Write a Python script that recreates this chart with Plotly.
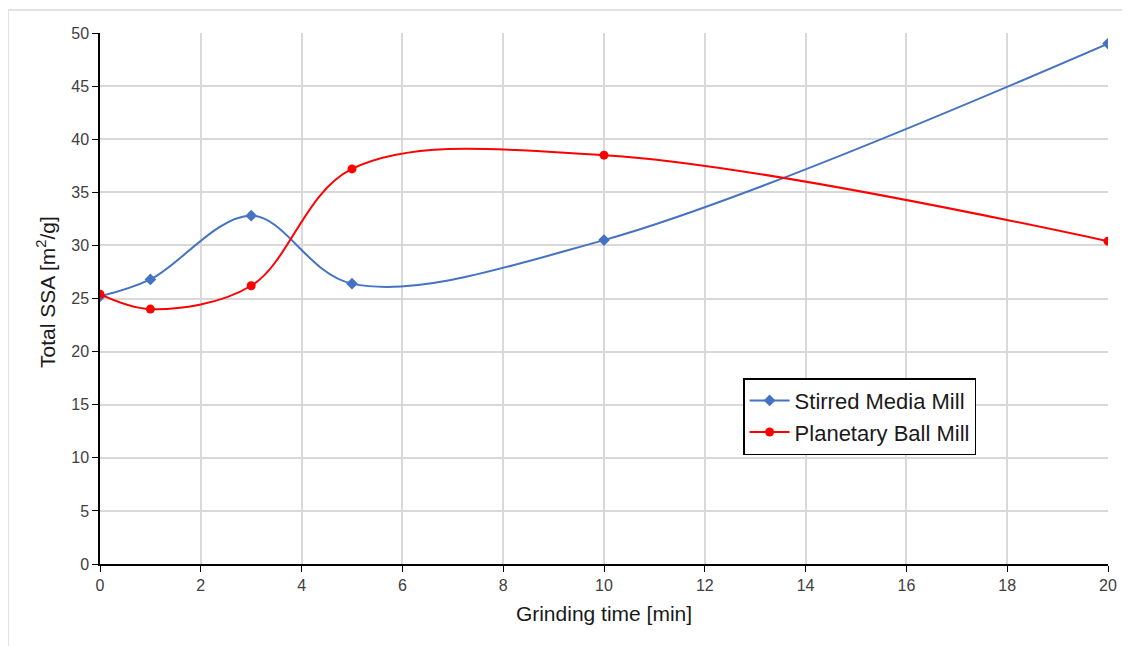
import plotly.graph_objects as go

time_min = [0, 1, 3, 5, 10, 20]
stirred_media = [25.2, 26.8, 32.8, 26.4, 30.5, 49.0]
planetary_ball = [25.4, 24.0, 26.2, 37.2, 38.5, 30.4]

x_ticks = list(range(0, 21, 2))
y_ticks = list(range(0, 51, 5))

fig = go.Figure()
fig.add_trace(go.Scatter(
    x=time_min, y=stirred_media, name="Stirred Media Mill",
    mode="lines+markers",
    line=dict(color="#4472C4", width=2, shape="spline", smoothing=1.0),
    marker=dict(symbol="diamond", size=9, color="#4472C4"),
))
fig.add_trace(go.Scatter(
    x=time_min, y=planetary_ball, name="Planetary Ball Mill",
    mode="lines+markers",
    line=dict(color="#FF0000", width=2, shape="spline", smoothing=1.0),
    marker=dict(symbol="circle", size=9, color="#FF0000"),
))

font_family = "Liberation Sans, Arial, sans-serif"
W, H = 1122, 638
L, R, T, B = 92, 22, 25, 82
pw, ph = W - L - R, H - T - B

fig.update_layout(
    width=W, height=H,
    margin=dict(l=L, r=R, t=T, b=B),
    paper_bgcolor="white", plot_bgcolor="white",
    font=dict(family=font_family, color="#404040", size=16),
    showlegend=True,
    legend=dict(
        x=0.638, y=0.35, xanchor="left", yanchor="top",
        bordercolor="black", borderwidth=1.5, bgcolor="white",
        font=dict(size=22, color="#1a1a1a", family=font_family),
        tracegroupgap=4, itemwidth=40,
    ),
    xaxis=dict(
        range=[0, 20], tickvals=x_ticks, showgrid=True, gridcolor="#D9D9D9", gridwidth=1.5,
        showline=True, linecolor="black", linewidth=1.5, zeroline=False,
        ticks="outside", ticklen=6, tickcolor="black",
        title=dict(text="Grinding time [min]", font=dict(size=21, color="#1a1a1a"), standoff=13),
        tickfont=dict(size=16, color="#404040"),
    ),
    yaxis=dict(
        range=[0, 50], tickvals=y_ticks, showgrid=True, gridcolor="#D9D9D9", gridwidth=1.5,
        showline=True, linecolor="black", linewidth=1.5, zeroline=False,
        ticks="outside", ticklen=6, tickcolor="black",
        tickfont=dict(size=16, color="#404040"),
    ),
)
# y axis title placed as a rotated annotation to match the reference position
fig.add_annotation(
    text="Total SSA [m<sup>2</sup>/g]", textangle=-90,
    xref="paper", yref="paper", x=(38 - L) / pw, y=(T + ph - 284) / ph,
    xanchor="center", yanchor="middle", showarrow=False,
    font=dict(size=21, color="#1a1a1a", family=font_family),
)
# outer chart border (Excel chart area frame)
fig.add_shape(type="rect", xref="paper", yref="paper",
              x0=(0 - L) / pw, x1=(W + 20 - L) / pw,
              y0=(T + ph - (H + 20)) / ph, y1=(T + ph - 2) / ph,
              line=dict(color="#D9D9D9", width=1.5), layer="below")

fig.write_html("out.html")
